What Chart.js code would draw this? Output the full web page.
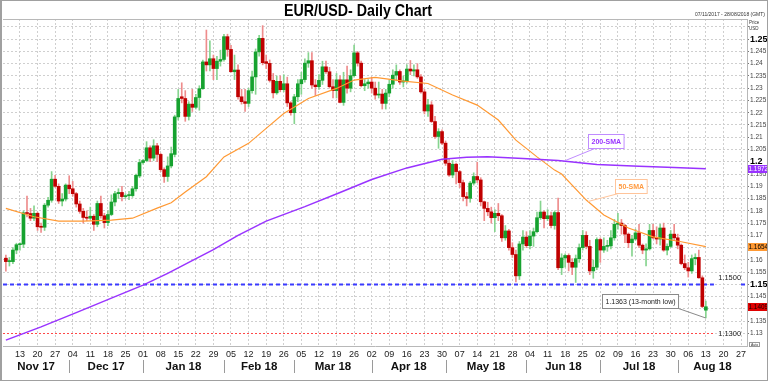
<!DOCTYPE html>
<html><head><meta charset="utf-8">
<script src="https://cdn.jsdelivr.net/npm/chart.js@4.4.0/dist/chart.umd.min.js"></script>
<style>html,body{margin:0;padding:0;background:#fff;}canvas{display:block;}</style>
</head><body>
<canvas id="c" width="768" height="381"></canvas>
<script>
// ---------- DATA ----------
const weekLabels = ['13','20','27','04','11','18','25','01','08','15','22','29','05','12','19','26','05','12','19','26','02','09','16','23','30','07','14','21','28','04','11','18','25','02','09','16','23','30','06','13','20','27'];
const monthLabels = ['Nov 17','Dec 17','Jan 18','Feb 18','Mar 18','Apr 18','May 18','Jun 18','Jul 18','Aug 18'];
const monthStarts = [null,18,39,62,82,104,125,148,169,191];
const yTickValues = [1.13,1.135,1.14,1.145,1.15,1.155,1.16,1.165,1.17,1.175,1.18,1.185,1.19,1.195,1.2,1.205,1.21,1.215,1.22,1.225,1.23,1.235,1.24,1.245,1.25,1.255];
const yTickLabels = ['1.13','1.135','1.14','1.145','1.15','1.155','1.16','1.165','1.17','1.175','1.18','1.185','1.19','1.195','1.2','1.205','1.21','1.215','1.22','1.225','1.23','1.235','1.24','1.245','1.25',''];
const majorLabels = ['1.25','1.2','1.15'];

const opens = [1.1607,1.1593,1.1593,1.1640,1.1662,1.1664,1.1792,1.1789,1.1770,1.1790,
1.1735,1.1733,1.1823,1.1843,1.1929,1.1900,1.1840,1.1848,1.1905,1.1890,
1.1870,1.1828,1.1798,1.1773,1.1770,1.1778,1.1745,1.1830,1.1780,1.1752,
1.1785,1.1836,1.1870,1.1875,1.1858,1.1862,1.1862,1.1890,1.1942,1.1997,
1.2005,1.2057,1.2015,1.2065,1.2030,1.1968,1.1940,1.1983,1.2030,1.2183,
1.2265,1.2258,1.2185,1.2235,1.2222,1.2262,1.2298,1.2407,1.2395,1.2420,
1.2380,1.2410,1.2417,1.2510,1.2458,1.2367,1.2374,1.2265,1.2245,1.2238,
1.2290,1.2346,1.2448,1.2503,1.2408,1.2401,1.2332,1.2281,1.2328,1.2294,
1.2318,1.2240,1.2200,1.2265,1.2318,1.2335,1.2402,1.2412,1.2313,1.2306,
1.2332,1.2387,1.2367,1.2306,1.2290,1.2334,1.2242,1.2334,1.2300,1.2351,
1.2444,1.2402,1.2310,1.2318,1.2325,1.2300,1.2272,1.2276,1.2238,1.2280,
1.2316,1.2353,1.2368,1.2325,1.2330,1.2378,1.2370,1.2375,1.2346,1.2285,
1.2207,1.2232,1.2164,1.2103,1.2123,1.2076,1.1994,1.1946,1.1990,1.1960,
1.1915,1.1858,1.1851,1.1913,1.1940,1.1926,1.1837,1.1810,1.1796,1.1772,
1.1790,1.1780,1.1690,1.1718,1.1650,1.1622,1.1535,1.1665,1.1693,1.1658,
1.1697,1.1715,1.1772,1.1795,1.1768,1.1780,1.1740,1.1793,1.1568,1.1608,
1.1618,1.1590,1.1570,1.1605,1.1650,1.1700,1.1655,1.1555,1.1570,1.1683,
1.1640,1.1655,1.1657,1.1690,1.1745,1.1750,1.1740,1.1705,1.1670,1.1685,
1.1710,1.1660,1.1640,1.1645,1.1720,1.1690,1.1685,1.1730,1.1640,1.1655,
1.1705,1.1690,1.1660,1.1585,1.1568,1.1555,1.1605,1.1610,1.1527,1.1395];
const highs = [1.1620,1.1610,1.1650,1.1668,1.1670,1.1800,1.1860,1.1810,1.1820,1.1795,
1.1750,1.1830,1.1855,1.1960,1.1945,1.1910,1.1870,1.1910,1.1943,1.1920,
1.1875,1.1840,1.1810,1.1800,1.1815,1.1785,1.1840,1.1860,1.1790,1.1800,
1.1865,1.1880,1.1890,1.1900,1.1870,1.1880,1.1900,1.1950,1.2010,1.2010,
1.2082,1.2065,1.2090,1.2075,1.2035,1.1975,1.2020,1.2060,1.2190,1.2295,
1.2322,1.2290,1.2245,1.2295,1.2275,1.2310,1.2415,1.2537,1.2493,1.2435,
1.2430,1.2455,1.2520,1.2520,1.2475,1.2435,1.2395,1.2295,1.2295,1.2300,
1.2370,1.2460,1.2515,1.2555,1.2435,1.2415,1.2360,1.2350,1.2350,1.2355,
1.2345,1.2245,1.2275,1.2335,1.2365,1.2420,1.2445,1.2445,1.2335,1.2355,
1.2410,1.2410,1.2385,1.2335,1.2360,1.2350,1.2365,1.2390,1.2375,1.2476,
1.2450,1.2410,1.2335,1.2335,1.2345,1.2325,1.2325,1.2295,1.2295,1.2335,
1.2375,1.2395,1.2375,1.2350,1.2395,1.2413,1.2395,1.2400,1.2355,1.2295,
1.2255,1.2245,1.2185,1.2135,1.2130,1.2085,1.2010,1.2005,1.1995,1.1965,
1.1925,1.1875,1.1920,1.1955,1.1998,1.1935,1.1840,1.1835,1.1815,1.1805,
1.1830,1.1785,1.1740,1.1725,1.1670,1.1640,1.1675,1.1720,1.1715,1.1720,
1.1730,1.1795,1.1840,1.1800,1.1805,1.1795,1.1800,1.1852,1.1625,1.1625,
1.1625,1.1605,1.1620,1.1665,1.1720,1.1715,1.1680,1.1600,1.1690,1.1690,
1.1690,1.1680,1.1720,1.1765,1.1790,1.1765,1.1745,1.1710,1.1700,1.1725,
1.1745,1.1665,1.1665,1.1745,1.1745,1.1735,1.1745,1.1750,1.1665,1.1720,
1.1745,1.1705,1.1665,1.1620,1.1590,1.1620,1.1625,1.1640,1.1535,1.1432];
const lows = [1.1554,1.1575,1.1585,1.1625,1.1640,1.1650,1.1775,1.1760,1.1760,1.1720,
1.1712,1.1720,1.1815,1.1835,1.1895,1.1830,1.1820,1.1840,1.1870,1.1860,
1.1815,1.1790,1.1750,1.1760,1.1765,1.1720,1.1735,1.1770,1.1730,1.1740,
1.1780,1.1820,1.1850,1.1840,1.1850,1.1845,1.1855,1.1880,1.1935,1.1990,
1.2000,1.2000,1.2005,1.2000,1.1960,1.1916,1.1920,1.1975,1.2020,1.2170,
1.2240,1.2165,1.2170,1.2205,1.2215,1.2210,1.2295,1.2370,1.2370,1.2335,
1.2335,1.2390,1.2410,1.2430,1.2365,1.2335,1.2255,1.2235,1.2205,1.2225,
1.2280,1.2275,1.2430,1.2395,1.2380,1.2325,1.2260,1.2275,1.2285,1.2285,
1.2225,1.2190,1.2155,1.2245,1.2275,1.2325,1.2385,1.2300,1.2270,1.2295,
1.2315,1.2360,1.2300,1.2260,1.2260,1.2240,1.2230,1.2280,1.2285,1.2345,
1.2390,1.2305,1.2290,1.2300,1.2280,1.2255,1.2260,1.2215,1.2215,1.2265,
1.2300,1.2330,1.2315,1.2305,1.2320,1.2355,1.2350,1.2340,1.2280,1.2195,
1.2185,1.2160,1.2095,1.2055,1.2070,1.1985,1.1940,1.1935,1.1910,1.1895,
1.1840,1.1820,1.1835,1.1905,1.1915,1.1820,1.1760,1.1780,1.1750,1.1715,
1.1760,1.1675,1.1680,1.1640,1.1610,1.1510,1.1520,1.1640,1.1650,1.1645,
1.1655,1.1710,1.1765,1.1730,1.1760,1.1730,1.1725,1.1560,1.1540,1.1570,
1.1555,1.1540,1.1508,1.1590,1.1640,1.1645,1.1540,1.1525,1.1560,1.1590,
1.1630,1.1635,1.1645,1.1680,1.1725,1.1705,1.1670,1.1650,1.1615,1.1680,
1.1650,1.1625,1.1575,1.1640,1.1685,1.1665,1.1660,1.1635,1.1620,1.1650,
1.1680,1.1645,1.1580,1.1560,1.1530,1.1545,1.1580,1.1525,1.1405,1.1363];
const closes = [1.1593,1.1595,1.1640,1.1662,1.1665,1.1792,1.1789,1.1770,1.1790,1.1735,
1.1733,1.1823,1.1843,1.1929,1.1900,1.1840,1.1848,1.1905,1.1890,1.1870,
1.1828,1.1798,1.1773,1.1770,1.1778,1.1745,1.1830,1.1780,1.1752,1.1785,
1.1836,1.1870,1.1875,1.1858,1.1862,1.1866,1.1890,1.1945,1.1997,1.2005,
1.2057,1.2015,1.2065,1.2030,1.1968,1.1940,1.1983,1.2033,1.2183,1.2258,
1.2258,1.2185,1.2235,1.2222,1.2262,1.2298,1.2407,1.2395,1.2420,1.2380,
1.2410,1.2417,1.2510,1.2458,1.2367,1.2374,1.2265,1.2245,1.2238,1.2290,
1.2346,1.2448,1.2503,1.2404,1.2401,1.2332,1.2281,1.2328,1.2294,1.2318,
1.2240,1.2200,1.2265,1.2318,1.2335,1.2402,1.2412,1.2313,1.2306,1.2332,
1.2387,1.2367,1.2306,1.2290,1.2334,1.2242,1.2334,1.2300,1.2351,1.2444,
1.2402,1.2310,1.2318,1.2325,1.2300,1.2272,1.2276,1.2238,1.2280,1.2316,
1.2353,1.2368,1.2325,1.2330,1.2378,1.2370,1.2375,1.2346,1.2285,1.2207,
1.2232,1.2164,1.2103,1.2123,1.2076,1.1994,1.1946,1.1990,1.1960,1.1915,
1.1858,1.1851,1.1913,1.1940,1.1926,1.1837,1.1810,1.1796,1.1772,1.1790,
1.1780,1.1690,1.1718,1.1650,1.1622,1.1535,1.1665,1.1693,1.1658,1.1697,
1.1715,1.1772,1.1795,1.1768,1.1780,1.1740,1.1793,1.1568,1.1608,1.1618,
1.1590,1.1570,1.1605,1.1650,1.1700,1.1655,1.1555,1.1570,1.1683,1.1640,
1.1655,1.1657,1.1690,1.1745,1.1750,1.1740,1.1705,1.1670,1.1685,1.1710,
1.1660,1.1640,1.1645,1.1720,1.1690,1.1685,1.1730,1.1640,1.1655,1.1705,
1.1690,1.1660,1.1585,1.1568,1.1555,1.1605,1.1610,1.1527,1.1410,1.1409];

const sma50Idx = [0,8,15,22,30,36,43,47,51,57,62,69,74,79,86,94,99,105,113,120,127,134,140,145,151,156,158,165,170,177,184,192,199];
const sma50Val = [1.1810,1.1776,1.1758,1.1758,1.1762,1.1770,1.1811,1.1833,1.1877,1.1939,1.2020,1.2075,1.2136,1.2197,1.2258,1.2299,1.2333,1.2344,1.2329,1.2319,1.2272,1.2231,1.2170,1.2088,1.2020,1.1966,1.1950,1.1844,1.1783,1.1730,1.1694,1.1674,1.1654];
const sma200Idx = [0,10,20,30,39,46,52,59,66,74,85,95,104,114,124,131,137,147,157,168,180,190,199];
const sma200Val = [1.1273,1.1327,1.1385,1.1444,1.1497,1.1545,1.1590,1.1642,1.1700,1.1758,1.1817,1.1875,1.1928,1.1975,1.2010,1.2018,1.2020,1.2013,1.2005,1.1989,1.1982,1.1977,1.1972];

const levelValues = [1.15, 1.13];
const levelLabels = ['1.1500', '1.1300'];
const lowValue = 1.1363;
const lowText = '1.1363 (13-month low)';

// ---------- LAYOUT / STYLE ----------
const xMin = -0.82, xMax = 210.7, yMin = 1.1249, yMax = 1.2582;
const FONT = 'Arial, "Liberation Sans", sans-serif';
const GREEN = '#16a22f', RED = '#c00000';
const idxs = closes.map((_, i) => i);
const isUp = i => closes[i] >= opens[i];

const extras = {
  id: 'extras',
  beforeDraw(chart) {
    const {ctx, width, height} = chart;
    ctx.save(); ctx.fillStyle = '#fff'; ctx.fillRect(0, 0, width, height); ctx.restore();
  },
  beforeDatasetsDraw(chart) {
    const {ctx, chartArea: a, scales: {x, y}} = chart;
    ctx.save();
    const endX = x.getPixelForValue(201.3);
    const styles = [
      {color: '#3a3aff', width: 2, dash: [4, 3]},
      {color: '#ff4848', width: 1, dash: [2, 2]}
    ];
    levelValues.forEach((v, k) => {
      const py = Math.round(y.getPixelForValue(v)) + 0.5;
      ctx.strokeStyle = styles[k].color; ctx.lineWidth = styles[k].width; ctx.setLineDash(styles[k].dash);
      ctx.beginPath(); ctx.moveTo(a.left, py); ctx.lineTo(endX, py);
      if (k === 0) { ctx.moveTo(x.getPixelForValue(209), py); ctx.lineTo(a.right, py); }
      ctx.stroke();
    });
    ctx.restore();
  },
  afterDatasetsDraw(chart) {
    const {ctx, scales: {x, y}} = chart;
    ctx.save();
    ctx.font = '7.5px ' + FONT; ctx.fillStyle = '#222'; ctx.textBaseline = 'middle'; ctx.textAlign = 'left';
    const lx = x.getPixelForValue(202.5);
    ctx.fillText(levelLabels[0], lx, y.getPixelForValue(levelValues[0]) - 6);
    ctx.fillText(levelLabels[1], lx, y.getPixelForValue(levelValues[1]));

    function note(text, cx, cy, tx, ty, fromX, fromY, border, color, bold) {
      ctx.font = (bold ? 'bold ' : '') + '7px ' + FONT;
      const w = ctx.measureText(text).width + 6, h = 14;
      const bx = Math.round(cx - w / 2) + 0.5, by = Math.round(cy - h / 2) + 0.5;
      ctx.strokeStyle = border; ctx.lineWidth = 1; ctx.setLineDash([]);
      ctx.beginPath(); ctx.moveTo(bx + fromX * w, by + fromY * h); ctx.lineTo(tx, ty); ctx.stroke();
      ctx.fillStyle = '#fff'; ctx.fillRect(bx, by, w, h); ctx.strokeRect(bx, by, w, h);
      ctx.fillStyle = color; ctx.textAlign = 'center'; ctx.textBaseline = 'middle';
      ctx.fillText(text, bx + w / 2, by + h / 2 + 0.5);
    }
    note('200-SMA', x.getPixelForValue(170.6), y.getPixelForValue(1.2084),
      x.getPixelForValue(158.9), y.getPixelForValue(1.2004), 0.18, 1, '#c08cff', '#9933ff', true);
    note('50-SMA', x.getPixelForValue(177.7), y.getPixelForValue(1.1903),
      x.getPixelForValue(165.5), y.getPixelForValue(1.1838), 0.1, 1, '#ffc49a', '#ff9a40', true);
    note(lowText, x.getPixelForValue(180.2), y.getPixelForValue(1.1434),
      x.getPixelForValue(199), y.getPixelForValue(lowValue), 1, 1, '#8a8a8a', '#222', false);
    ctx.restore();
  },
  afterDraw(chart) {
    const {ctx, chartArea: a, scales: {x, y}, width, height} = chart;
    ctx.save();
    // plot top border
    ctx.strokeStyle = '#b8b8b8'; ctx.lineWidth = 1;
    ctx.beginPath(); ctx.moveTo(a.left, a.top + 0.5); ctx.lineTo(a.right, a.top + 0.5); ctx.stroke();
    // month labels and separators
    ctx.font = 'bold 11.5px ' + FONT; ctx.fillStyle = '#111'; ctx.textAlign = 'center'; ctx.textBaseline = 'middle';
    const px = monthStarts.map(v => v === null ? a.left : x.getPixelForValue(v));
    monthLabels.forEach((m, i) => {
      const l = px[i], r = i + 1 < px.length ? px[i + 1] : a.right;
      ctx.fillText(m, (l + r) / 2, 366.5);
      if (i > 0) {
        ctx.strokeStyle = '#9a9a9a';
        ctx.beginPath(); ctx.moveTo(Math.round(l) + 0.5, 360); ctx.lineTo(Math.round(l) + 0.5, 373); ctx.stroke();
      }
    });
    // right axis value boxes
    const boxes = [
      {v: sma200Val[sma200Val.length - 1], bg: '#9933ff', fg: '#ffffff'},
      {v: sma50Val[sma50Val.length - 1], bg: '#ff9933', fg: '#000000'},
      {v: closes[closes.length - 1], bg: '#e00000', fg: '#1a0000'}
    ];
    ctx.font = '6.4px ' + FONT; ctx.textAlign = 'left';
    boxes.forEach(b => {
      const py = y.getPixelForValue(b.v);
      ctx.fillStyle = b.bg; ctx.fillRect(a.right + 1, Math.round(py - 4), width - a.right - 1, 8);
      ctx.fillStyle = b.fg; ctx.fillText(b.v.toFixed(4), a.right + 1.5, py + 0.5);
    });
    // title
    ctx.fillStyle = '#000'; ctx.textAlign = 'center'; ctx.textBaseline = 'middle';
    ctx.font = 'bold 17px "Liberation Sans Narrow", "Arial Narrow", Arial, sans-serif';
    const title = 'EUR/USD- Daily Chart';
    const tw = ctx.measureText(title).width, target = 148;
    ctx.save(); ctx.translate(358, 11); ctx.scale(target / tw, 1); ctx.fillText(title, 0, 0); ctx.restore();
    // small texts
    ctx.font = '5px ' + FONT; ctx.fillStyle = '#333'; ctx.textAlign = 'right';
    ctx.fillText('07/11/2017 - 28/08/2018 (GMT)', 765, 15);
    ctx.textAlign = 'left'; ctx.font = '4.5px ' + FONT;
    ctx.fillText('Price', a.right + 2, 23); ctx.fillText('USD', a.right + 2, 29);
    ctx.strokeStyle = '#999'; ctx.strokeRect(a.right + 2.5, 342.5, 10, 4);
    ctx.font = '3.5px ' + FONT; ctx.fillText('Auto', a.right + 4, 344.8);
    // frame
    ctx.strokeStyle = '#a0a0a0'; ctx.lineWidth = 1;
    ctx.strokeRect(0.5, 0.5, width - 1, height - 1);
    ctx.beginPath(); ctx.moveTo(1.5, 0); ctx.lineTo(1.5, height); ctx.stroke();
    ctx.restore();
  }
};

new Chart(document.getElementById('c'), {
  type: 'bar',
  data: {
    datasets: [
      {type: 'line', label: '200-SMA', data: sma200Idx.map((v, i) => ({x: v, y: sma200Val[i]})),
        borderColor: '#9933ff', borderWidth: 1.5, pointRadius: 0, tension: 0, order: 0},
      {type: 'line', label: '50-SMA', data: sma50Idx.map((v, i) => ({x: v, y: sma50Val[i]})),
        borderColor: '#ff9933', borderWidth: 1.2, pointRadius: 0, tension: 0, order: 0},
      {type: 'bar', label: 'body', data: idxs.map(i => ({x: i, y: [Math.min(opens[i], closes[i]), Math.max(opens[i], closes[i])]})),
        backgroundColor: idxs.map(i => isUp(i) ? GREEN : RED), barThickness: 3, grouped: false, minBarLength: 1, order: 1},
      {type: 'bar', label: 'wick', data: idxs.map(i => ({x: i, y: [lows[i], highs[i]]})),
        backgroundColor: idxs.map(i => isUp(i) ? '#86d48f' : '#ee8c8c'), barThickness: 1, grouped: false, order: 2}
    ]
  },
  options: {
    responsive: false, animation: false, events: [],
    layout: {padding: {left: 3, top: 19, right: 0, bottom: 0}},
    plugins: {legend: {display: false}, tooltip: {enabled: false}, title: {display: false}},
    scales: {
      x: {
        type: 'linear', min: xMin, max: xMax, offset: false, position: 'bottom',
        afterBuildTicks: ax => { ax.ticks = weekLabels.map((_, k) => ({value: 4 + 5 * k})); },
        afterFit: ax => { ax.height = 35; },
        ticks: {autoSkip: false, maxRotation: 0, minRotation: 0, padding: 3, color: '#222',
          font: {family: FONT, size: 9}, callback: (v, i) => weekLabels[i]},
        grid: {offset: false, color: '#cfcfcf', lineWidth: 1, drawTicks: false},
        border: {display: true, color: '#b8b8b8', dash: [2, 2]}
      },
      y: {
        type: 'linear', position: 'right', min: yMin, max: yMax,
        afterBuildTicks: ax => { ax.ticks = yTickValues.map(v => ({value: v})); },
        afterFit: ax => { ax.width = 21; },
        ticks: {autoSkip: false, padding: 1,
          callback: (v, i) => yTickLabels[i],
          font: c => majorLabels.includes(yTickLabels[c.index]) ? {family: FONT, size: 9, weight: 'bold'} : {family: FONT, size: 6.5},
          color: c => majorLabels.includes(yTickLabels[c.index]) ? '#000' : '#444'},
        grid: {color: '#cfcfcf', lineWidth: 1, drawTicks: true, tickLength: 2, tickColor: '#777', tickBorderDash: []},
        border: {display: true, color: '#b8b8b8', dash: [2, 2]}
      }
    }
  },
  plugins: [extras]
});
</script>
</body></html>
